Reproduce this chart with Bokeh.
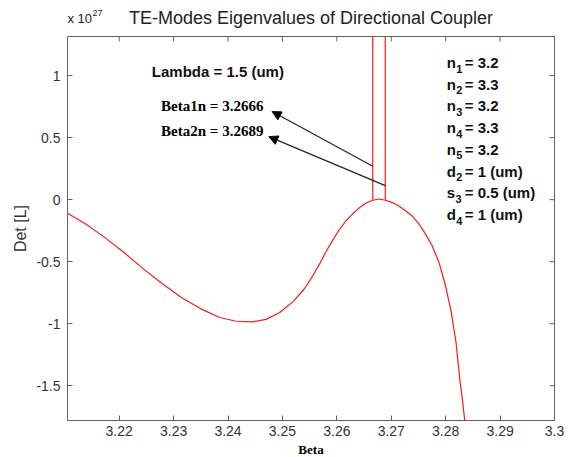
import math
from bokeh.plotting import figure
from bokeh.models import (Range1d, FixedTicker, Label, Arrow, NormalHead)
from bokeh.embed import file_html
from bokeh.resources import INLINE

# ---- data (visible part of the curve) ----
beta = [3.2105, 3.2140, 3.2175, 3.2210, 3.2245, 3.2280, 3.2315, 3.2350, 3.2385,
        3.2415, 3.2445, 3.2470, 3.2495, 3.2520, 3.2540, 3.2555, 3.2568, 3.2580,
        3.2592, 3.2604, 3.2617, 3.2630, 3.2643, 3.2655, 3.2666, 3.2678, 3.2689,
        3.2700, 3.2712, 3.2725, 3.2738, 3.2750, 3.2762, 3.2775, 3.2788, 3.2800,
        3.2810, 3.2819, 3.2826, 3.2831, 3.2835]
det = [-0.11, -0.20, -0.31, -0.43, -0.56, -0.68, -0.79, -0.88, -0.95,
       -0.98, -0.985, -0.965, -0.91, -0.82, -0.72, -0.62, -0.52, -0.42,
       -0.33, -0.245, -0.17, -0.11, -0.06, -0.025, -0.005, 0.005, -0.005,
       -0.02, -0.045, -0.085, -0.13, -0.19, -0.27, -0.37, -0.51, -0.70,
       -0.90, -1.15, -1.45, -1.62, -1.78]

roots = [3.2666, 3.2689]
root_det = [0.0, 0.0]
root_labels = ["Beta1n = 3.2666", "Beta2n = 3.2689"]

xticks = [3.22, 3.23, 3.24, 3.25, 3.26, 3.27, 3.28, 3.29, 3.3]
xtick_labels = ["3.22", "3.23", "3.24", "3.25", "3.26", "3.27", "3.28", "3.29", "3.3"]
yticks = [-1.5, -1.0, -0.5, 0.0, 0.5, 1.0]
ytick_labels = ["-1.5", "-1", "-0.5", "0", "0.5", "1"]

param_sym = ["n", "n", "n", "n", "n", "d", "s", "d"]
param_sub = ["1", "2", "3", "4", "5", "2", "3", "4"]
param_val = ["= 3.2", "= 3.3", "= 3.2", "= 3.3", "= 3.2",
             "= 1 (um)", "=  0.5 (um)", "= 1 (um)"]
lambda_text = "Lambda = 1.5 (um)"
title_text = "TE-Modes Eigenvalues of Directional Coupler"
exp_base, exp_power = "x 10", "27"
x_label, y_label = "Beta", "Det [L]"

# ---- axis box limits ----
X0, X1 = 3.2105, 3.3
Y0, Y1 = -1.78, 1.315

BOX_W, BOX_H = 487, 384            # pixel size of the axes box
PPX = BOX_W / (X1 - X0)            # pixels per x unit
PPY = BOX_H / (Y1 - Y0)            # pixels per y unit
PAD_TOP, PAD_BOTTOM, PAD_RIGHT = 36, 36, 17

p = figure(frame_width=BOX_W + PAD_RIGHT, frame_height=BOX_H + PAD_TOP + PAD_BOTTOM,
           output_backend="svg", toolbar_location=None,
           x_range=Range1d(X0, X1 + PAD_RIGHT / PPX),
           y_range=Range1d(Y0 - PAD_BOTTOM / PPY, Y1 + PAD_TOP / PPY),
           min_border_left=67, min_border_right=0, min_border_top=0, min_border_bottom=1)
p.background_fill_color = "white"
p.border_fill_color = "white"
p.grid.visible = False
p.outline_line_color = None

axis_col = "#606060"
lab_col = "#333333"
SANS = "Liberation Sans"
SERIF = "Liberation Serif"

xa = p.xaxis[0]
xa.fixed_location = Y0
xa.bounds = (X0, X1)
xa.ticker = FixedTicker(ticks=xticks)
xa.major_label_overrides = dict(zip(xticks, xtick_labels))
xa.major_label_standoff = 5

ya = p.yaxis[0]
ya.bounds = (Y0, Y1)
ya.ticker = FixedTicker(ticks=yticks)
ya.major_label_overrides = dict(zip(yticks, ytick_labels))
ya.axis_label = y_label
ya.axis_label_text_font = SANS
ya.axis_label_text_font_style = "normal"
ya.axis_label_text_font_size = "16px"
ya.axis_label_text_color = "#333333"
ya.axis_label_standoff = 4
ya.major_label_standoff = 7

for ax in (xa, ya):
    ax.axis_line_color = axis_col
    ax.major_tick_line_color = axis_col
    ax.major_tick_in = 5
    ax.major_tick_out = 0
    ax.minor_tick_line_color = None
    ax.major_label_text_font = SANS
    ax.major_label_text_font_size = "14px"
    ax.major_label_text_color = lab_col

# x-axis title, centred under the box
p.add_layout(Label(x=(X0 + X1) / 2, y=Y0 - 29 / PPY, text=x_label, text_font=SERIF,
                   text_font_style="bold", text_font_size="13px", text_color="black",
                   text_align="center", text_baseline="middle"))

# the box and inward ticks on top and right
p.quad(left=[X0], right=[X1], bottom=[Y0], top=[Y1], fill_color=None,
       line_color=axis_col, line_width=1)
p.ray(x=xticks, y=[Y1] * len(xticks), length=5, length_units="screen",
      angle=-math.pi / 2, line_color=axis_col, line_width=1)
p.ray(x=[X1] * len(yticks), y=yticks, length=5, length_units="screen",
      angle=math.pi, line_color=axis_col, line_width=1)

# curve and roots
p.line(beta, det, line_color="#ff1a1a", line_width=1.2)
p.segment(x0=roots, y0=root_det, x1=roots, y1=[Y1] * len(roots),
          line_color="#ff1a1a", line_width=1.2)

# annotations
p.add_layout(Label(x=3.2260, y=1.035, text=lambda_text, text_font=SANS,
                   text_font_style="bold", text_font_size="15px", text_color="#111111",
                   text_baseline="middle"))
label_y = [0.752, 0.556]
head_pos = [(3.2481, 0.710), (3.2475, 0.508)]
tail_y = [0.269, 0.113]
for i in range(2):
    p.add_layout(Label(x=3.2277, y=label_y[i], text=root_labels[i], text_font=SERIF,
                       text_font_style="bold", text_font_size="15px", text_color="black",
                       text_baseline="middle"))
    p.add_layout(Arrow(end=NormalHead(size=9, fill_color="black", line_color="black"),
                       x_start=roots[i], y_start=tail_y[i],
                       x_end=head_pos[i][0], y_end=head_pos[i][1],
                       line_color="#222222", line_width=1.2))

PX = 3.2802
sub_dx = {"n": 9.5, "d": 9.5, "s": 8.7}
for i in range(len(param_sym)):
    yy = 1.105 - i * 0.175
    p.add_layout(Label(x=PX, y=yy, text=param_sym[i], text_font=SANS,
                       text_font_style="bold", text_font_size="15px", text_color="#111111",
                       text_baseline="middle"))
    p.add_layout(Label(x=PX, y=yy - 6 / PPY, x_offset=sub_dx[param_sym[i]],
                       text=param_sub[i], text_font=SANS,
                       text_font_style="bold", text_font_size="11px", text_color="#111111",
                       text_baseline="middle"))
    p.add_layout(Label(x=PX, y=yy, x_offset=18, text=param_val[i], text_font=SANS,
                       text_font_style="bold", text_font_size="15px", text_color="#111111",
                       text_baseline="middle"))

# title and exponent marker (above the box, inside the frame)
p.add_layout(Label(x=(X0 + X1) / 2, y=Y1 + 19 / PPY, text=title_text, text_font=SANS,
                   text_font_size="18px", text_color="#222222", text_align="center",
                   text_baseline="middle"))
p.add_layout(Label(x=X0, y=Y1 + 18 / PPY, x_offset=0, text=exp_base, text_font=SANS,
                   text_font_size="13px", text_color="#222222", text_baseline="middle"))
p.add_layout(Label(x=X0, y=Y1 + 24 / PPY, x_offset=25, text=exp_power, text_font=SANS,
                   text_font_size="9px", text_color="#222222", text_baseline="middle"))

open("out.html", "w").write(file_html(p, INLINE))
